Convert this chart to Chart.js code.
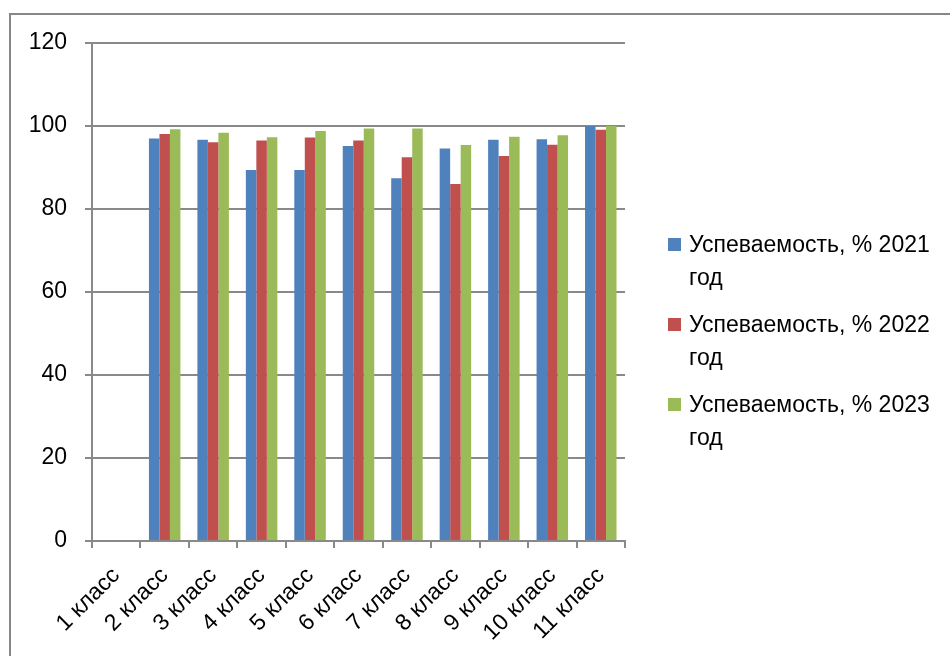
<!DOCTYPE html>
<html>
<head>
<meta charset="utf-8">
<script src="https://cdn.jsdelivr.net/npm/chart.js@4/dist/chart.umd.min.js"></script>
<style>
  html, body { margin: 0; padding: 0; background: #ffffff; }
  #wrap { position: relative; width: 950px; height: 656px; overflow: hidden; }
  #frame { position: absolute; left: 9px; top: 13px; width: 1200px; height: 1200px;
           border-left: 2px solid #878787; border-top: 2px solid #878787; }
  #c { position: absolute; left: 0; top: 0; }
  #legend { position: absolute; left: 668px; top: 228px; font-family: "Liberation Sans", Arial, sans-serif;
            font-size: 23px; line-height: 33px; color: #000; }
  .item { position: relative; padding-left: 21px; height: 66px; margin-bottom: 14px; }
  .sw { position: absolute; left: 0; top: 10px; width: 13px; height: 13px; }
</style>
</head>
<body>
<div id="wrap">
  <div id="frame"></div>
  <canvas id="c" width="950" height="656"></canvas>
  <div id="legend"></div>
</div>
<script>
const categories = ["1 класс","2 класс","3 класс","4 класс","5 класс","6 класс","7 класс","8 класс","9 класс","10 класс","11 класс"];
const seriesNames = ["Успеваемость, % 2021 год","Успеваемость, % 2022 год","Успеваемость, % 2023 год"];
const values2021 = [null, 97.0, 96.7, 89.4, 89.4, 95.2, 87.4, 94.6, 96.7, 96.8, 100];
const values2022 = [null, 98.1, 96.1, 96.5, 97.2, 96.5, 92.5, 86.0, 92.8, 95.5, 99.1];
const values2023 = [null, 99.2, 98.4, 97.3, 98.8, 99.4, 99.4, 95.4, 97.4, 97.8, 100];
const yTicks = [0, 20, 40, 60, 80, 100, 120];

const colors = ["#4F81BD", "#C0504D", "#9BBB59"];
const FONT = "'Liberation Sans', Arial, sans-serif";

const data = {
  labels: categories,
  datasets: [values2021, values2022, values2023].map((v, i) => ({
    label: seriesNames[i],
    data: v,
    backgroundColor: colors[i],
    borderWidth: 0,
    categoryPercentage: 0.65,
    barPercentage: 1.0
  }))
};

new Chart(document.getElementById('c'), {
  type: 'bar',
  data: data,
  options: {
    responsive: false,
    animation: false,
    layout: { padding: { top: 43, right: 325, left: 0, bottom: 0 } },
    plugins: { legend: { display: false }, tooltip: { enabled: false } },
    scales: {
      x: {
        grid: { drawOnChartArea: false, drawTicks: true, tickLength: 7, color: '#898989', lineWidth: 2, offset: true },
        border: { display: true, color: '#898989', width: 2 },
        ticks: { color: '#000', font: { family: FONT, size: 23 }, maxRotation: 45, minRotation: 45, padding: 14, autoSkip: false },
        afterFit: (s) => { s.height = 115; }
      },
      y: {
        min: 0, max: 120,
        afterBuildTicks: (s) => { s.ticks = yTicks.map(v => ({ value: v })); },
        grid: { color: '#898989', lineWidth: 2, tickLength: 7 },
        border: { display: true, color: '#898989', width: 2 },
        ticks: { color: '#000', font: { family: FONT, size: 23 }, padding: 18 },
        afterFit: (s) => { s.width = 92; }
      }
    }
  }
});

const lg = document.getElementById('legend');
seriesNames.forEach((name, i) => {
  const it = document.createElement('div');
  it.className = 'item';
  const sw = document.createElement('span');
  sw.className = 'sw';
  sw.style.background = colors[i];
  it.appendChild(sw);
  const parts = name.split(' год');
  const t = document.createElement('div');
  t.innerHTML = parts[0] + '<br>год';
  it.appendChild(t);
  lg.appendChild(it);
});
</script>
</body>
</html>
